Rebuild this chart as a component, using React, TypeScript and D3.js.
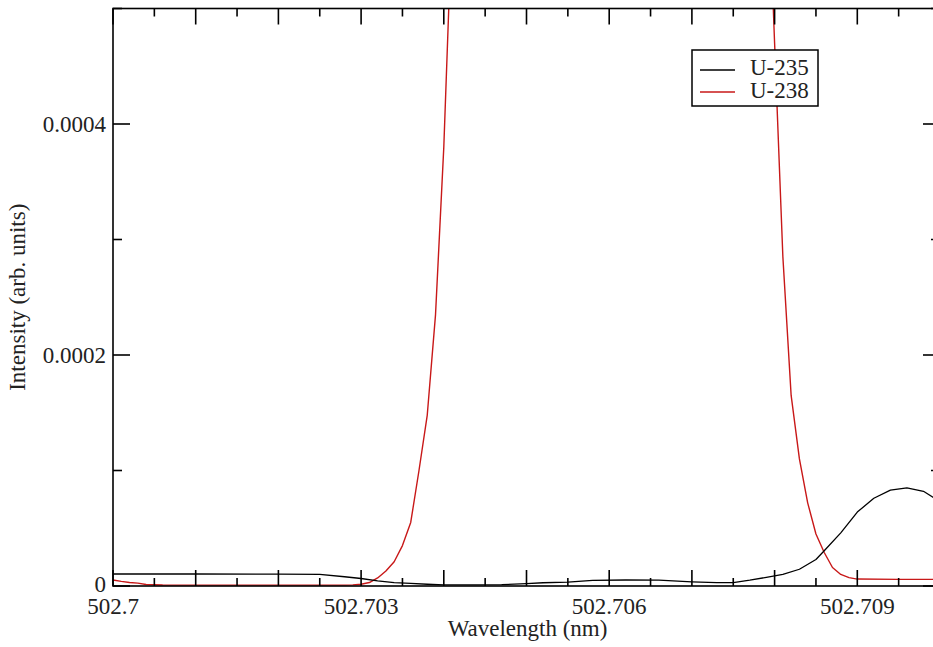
import React from "react";
import * as d3 from "d3";

// U-235 profile: wavelength (nm) and intensity (arb. units)
const u235Wavelength = [
  502.7, 502.701, 502.702, 502.7025, 502.7028, 502.703, 502.7032, 502.7034, 502.7036, 502.7038,
  502.704, 502.7044, 502.7047, 502.705, 502.7052, 502.7055, 502.7058, 502.7062, 502.7066, 502.707,
  502.7073, 502.7075, 502.7077, 502.7079, 502.7081, 502.7083, 502.7085, 502.7086, 502.7088, 502.709,
  502.7092, 502.7094, 502.7096, 502.7098, 502.71,
];
const u235Intensity = [
  1.04e-5, 1.04e-5, 1.03e-5, 1.0e-5, 8.0e-6, 6.5e-6, 4.5e-6, 3.0e-6, 2.3e-6, 1.5e-6,
  1.0e-6, 0.9e-6, 1.2e-6, 2.0e-6, 2.8e-6, 3.4e-6, 4.8e-6, 5.2e-6, 5.0e-6, 3.6e-6,
  3.0e-6, 3.0e-6, 5.0e-6, 7.5e-6, 1.0e-5, 1.45e-5, 2.3e-5, 3.05e-5, 4.6e-5, 6.4e-5,
  7.6e-5, 8.3e-5, 8.5e-5, 8.2e-5, 7.3e-5,
];

// U-238 profile
const u238Wavelength = [
  502.7, 502.7001, 502.7002, 502.7003, 502.7004, 502.7006, 502.701, 502.702, 502.7028, 502.7029,
  502.703, 502.7031, 502.7032, 502.7033, 502.7034, 502.7035, 502.7036, 502.7037, 502.7038, 502.7039,
  502.704, 502.7041, 502.7042, 502.7045, 502.705, 502.706, 502.707, 502.7075, 502.7078, 502.7079,
  502.708, 502.7081, 502.7082, 502.7083, 502.7084, 502.7085, 502.7086, 502.7087, 502.7088, 502.7089,
  502.709, 502.7095, 502.71,
];
const u238Intensity = [
  5.2e-6, 4.0e-6, 3.0e-6, 2.5e-6, 1.3e-6, 0.9e-6, 0.8e-6, 0.8e-6, 0.8e-6, 1.0e-6,
  1.5e-6, 3.0e-6, 7.0e-6, 1.3e-5, 2.1e-5, 3.5e-5, 5.5e-5, 1.0e-4, 1.48e-4, 2.35e-4,
  3.8e-4, 5.8e-4, 9.0e-4, 2.0e-3, 3.5e-3, 4.0e-3, 2.5e-3, 1.5e-3, 8.5e-4, 6.6e-4,
  4.7e-4, 2.85e-4, 1.65e-4, 1.1e-4, 7.2e-5, 4.5e-5, 2.9e-5, 1.6e-5, 1.0e-5, 7.2e-6,
  6.0e-6, 5.7e-6, 5.7e-6,
];

const seriesNames = ["U-235", "U-238"];
const seriesColors = ["#000000", "#c81818"];

const xTicksMajor = d3.range(0, 11).map((i) => 502.7 + i * 0.001);
const xTicksMinor = d3.range(0, 10).map((i) => 502.7 + 0.0005 + i * 0.001);
const xLabelTicks = [502.7, 502.703, 502.706, 502.709];
const yTicksMajor = [0, 0.0002, 0.0004];
const yTicksMinor = [0.0001, 0.0003, 0.0005];

const W = 933;
const H = 647;
const M = { left: 113, right: 940, top: 8.5, bottom: 586 };
const FONT = "Liberation Serif";
const FS = 23;
const textStyle = { fontFamily: FONT } as React.CSSProperties;

export default function App() {
  const x = d3.scaleLinear().domain([502.7, 502.71]).range([M.left, M.right]);
  const y = d3.scaleLinear().domain([0, 0.0005]).range([M.bottom, M.top]);

  const line = d3
    .line<[number, number]>()
    .x((d) => x(d[0]))
    .y((d) => y(d[1]));

  const s235: [number, number][] = u235Wavelength.map((w, i) => [w, u235Intensity[i]]);
  const s238: [number, number][] = u238Wavelength.map((w, i) => [w, u238Intensity[i]]);

  const majorLen = 16;
  const minorLen = 8;
  const fmtX = (v: number) => {
    const s = v.toFixed(3);
    return s.replace(/0+$/, "").replace(/\.$/, "");
  };
  const fmtY = (v: number) => (v === 0 ? "0" : v.toFixed(4));

  return (
    <svg
      width={W}
      height={H}
      style={{ position: "absolute", left: 0, top: 0, background: "#fff" }}
    >
      <defs>
        <clipPath id="plotClip">
          <rect x={M.left} y={M.top} width={M.right - M.left} height={M.bottom - M.top} />
        </clipPath>
      </defs>
      <rect x={0} y={0} width={W} height={H} fill="#fff" />

      <g clipPath="url(#plotClip)" fill="none" strokeLinejoin="round">
        <path d={line(s238) || ""} stroke={seriesColors[1]} strokeWidth={1.4} />
        <path d={line(s235) || ""} stroke={seriesColors[0]} strokeWidth={1.3} />
      </g>

      {/* frame */}
      <rect
        x={M.left}
        y={M.top}
        width={M.right - M.left}
        height={M.bottom - M.top}
        fill="none"
        stroke="#000"
        strokeWidth={1.6}
      />

      {/* ticks */}
      <g stroke="#000" strokeWidth={1.6}>
        {xTicksMajor.map((t, i) => (
          <g key={"xm" + i}>
            <line x1={x(t)} x2={x(t)} y1={M.bottom} y2={M.bottom - majorLen} />
            <line x1={x(t)} x2={x(t)} y1={M.top} y2={M.top + majorLen} />
          </g>
        ))}
        {xTicksMinor.map((t, i) => (
          <g key={"xn" + i}>
            <line x1={x(t)} x2={x(t)} y1={M.bottom} y2={M.bottom - minorLen} />
            <line x1={x(t)} x2={x(t)} y1={M.top} y2={M.top + minorLen} />
          </g>
        ))}
        {yTicksMajor.map((t, i) => (
          <g key={"ym" + i}>
            <line x1={M.left} x2={M.left + majorLen + 1} y1={y(t)} y2={y(t)} />
            <line x1={M.right} x2={M.right - majorLen - 1} y1={y(t)} y2={y(t)} />
          </g>
        ))}
        {yTicksMinor.map((t, i) => (
          <g key={"yn" + i}>
            <line x1={M.left} x2={M.left + minorLen + 1} y1={y(t)} y2={y(t)} />
            <line x1={M.right} x2={M.right - minorLen - 1} y1={y(t)} y2={y(t)} />
          </g>
        ))}
      </g>

      {/* tick labels */}
      <g fontSize={FS} fill="#222">
        {xLabelTicks.map((t, i) => (
          <text key={"xl" + i} x={x(t)} y={614} textAnchor="middle" style={textStyle}>
            {fmtX(t)}
          </text>
        ))}
        {yTicksMajor.map((t, i) => (
          <text key={"yl" + i} x={106} y={y(t) + (t === 0 ? 6 : 7.5)} textAnchor="end" style={textStyle}>
            {fmtY(t)}
          </text>
        ))}
      </g>

      {/* axis titles */}
      <text
        x={(M.left + M.right) / 2 + 1}
        y={636}
        textAnchor="middle"
        fontSize={FS}
        fill="#222"
        style={textStyle}
      >
        Wavelength (nm)
      </text>
      <text
        transform={`translate(25, ${(M.top + M.bottom) / 2}) rotate(-90)`}
        textAnchor="middle"
        fontSize={FS}
        fill="#222"
        style={textStyle}
      >
        Intensity (arb. units)
      </text>

      {/* legend */}
      <g>
        <rect x={692} y={50} width={126} height={56} fill="#fff" stroke="#000" strokeWidth={1.5} />
        {seriesNames.map((n, i) => (
          <g key={n}>
            <line
              x1={700}
              x2={735}
              y1={70 + i * 22}
              y2={70 + i * 22}
              stroke={seriesColors[i]}
              strokeWidth={1.4}
            />
            <text x={750} y={75 + i * 23} fontSize={FS} fill="#222" style={textStyle}>
              {n}
            </text>
          </g>
        ))}
      </g>
    </svg>
  );
}
